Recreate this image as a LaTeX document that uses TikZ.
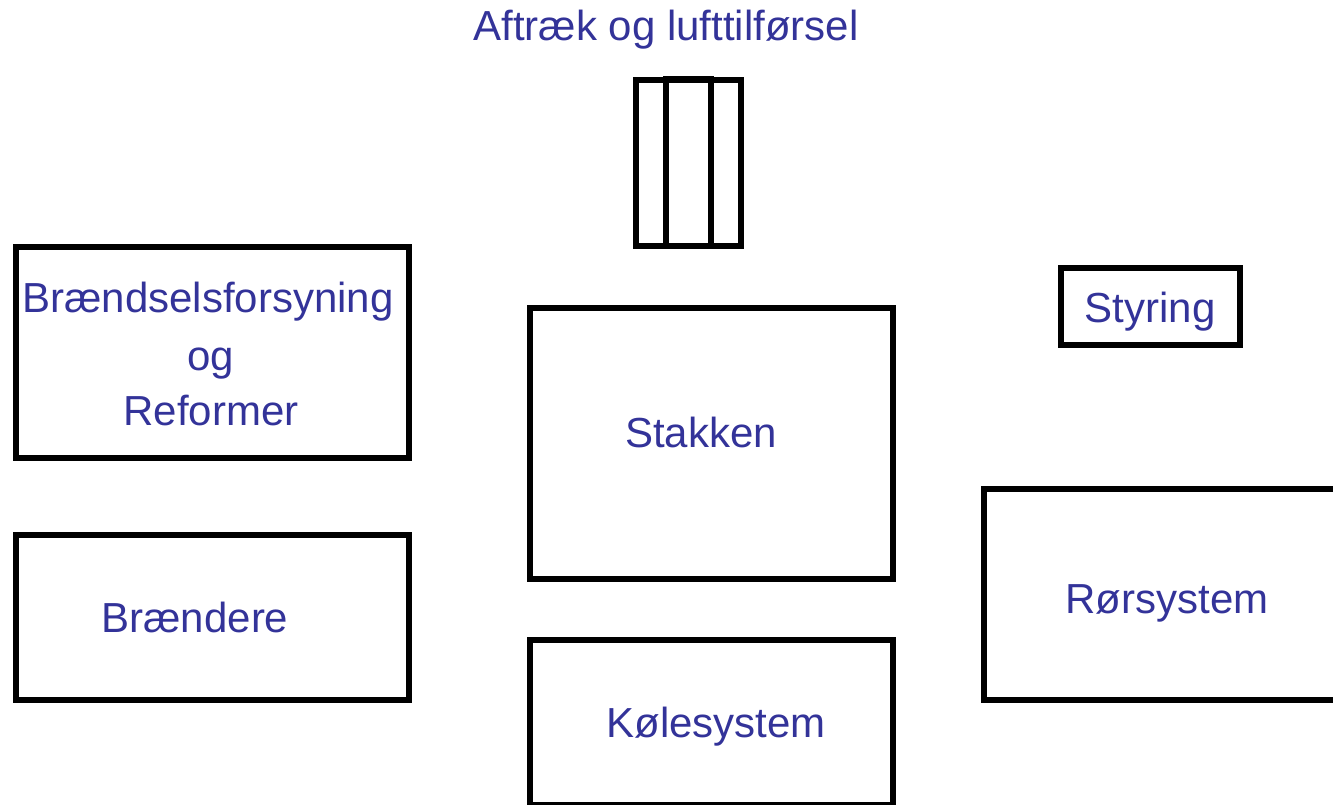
\documentclass[tikz,border=0pt]{standalone}
\usepackage{fontspec}
\setmainfont{Liberation Sans}
\definecolor{labelblue}{HTML}{333399}
\tikzset{
  box/.style={line width=4.5pt},
  lbl/.style={anchor=base, inner sep=0pt, text=labelblue, font=\fontsize{31.5}{38}\selectfont},
}

\begin{document}
\begin{tikzpicture}[x=0.75pt,y=0.75pt,yscale=-1,xscale=1]
    \useasboundingbox (0,0) rectangle (1333,804); %set diagram size to 1333 x 804
    
    %Shape: Chimney [id:chimney] 
    \draw [box] (636,80) rectangle (741,246) ;
    \draw [box] (666,79) rectangle (711,246) ;
    %Shape: Rectangle [id:fuelbox] 
    \draw [box] (16,247) rectangle (409,458) ;
    %Shape: Rectangle [id:burnerbox] 
    \draw [box] (16,535) rectangle (409,700) ;
    %Shape: Rectangle [id:stackbox] 
    \draw [box] (530,308) rectangle (893,579) ;
    %Shape: Rectangle [id:coolbox] 
    \draw [box] (530,640) rectangle (893,805) ;
    %Shape: Rectangle [id:ctrlbox] 
    \draw [box] (1061,268) rectangle (1240,345) ;
    %Shape: Rectangle [id:pipebox] 
    \draw [box] (984,489) rectangle (1345,700) ;
    
    % Text Node
    \node [lbl] (exhaust) at (666,40) {Aftræk og lufttilførsel};
    % Text Node
    \node [lbl] (fuelA) at (208,312) {Brændselsforsyning};
    \node [lbl] (fuelB) at (211,370) {og};
    \node [lbl] (fuelC) at (211,425) {Reformer};
    % Text Node
    \node [lbl] (burner) at (195,632) {Brændere};
    % Text Node
    \node [lbl] (stack) at (701,447) {Stakken};
    % Text Node
    \node [lbl] (cool) at (716,737) {Kølesystem};
    % Text Node
    \node [lbl] (ctrl) at (1150,322) {Styring};
    % Text Node
    \node [lbl] (pipe) at (1167,613) {Rørsystem};
    
\end{tikzpicture}
\end{document}
